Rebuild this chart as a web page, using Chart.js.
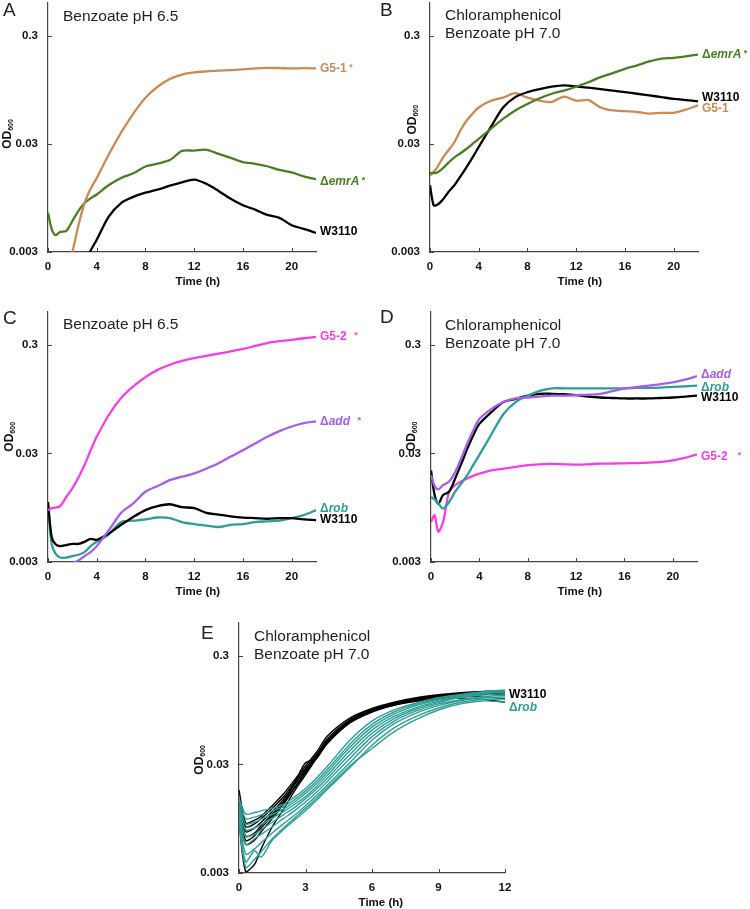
<!DOCTYPE html>
<html>
<head>
<meta charset="utf-8">
<script src="https://cdn.jsdelivr.net/npm/chart.js@4.4.1/dist/chart.umd.min.js"></script>
<style>
  body { margin: 0; background: #fff; }
  #fig { position: relative; width: 750px; height: 909px; font-family: 'Liberation Sans', Arial, sans-serif; color: #222; overflow: hidden; }
  .box { position: absolute; }
  .letter { position: absolute; font-size: 19px; line-height: 20px; }
  .cond { position: absolute; font-size: 15.5px; line-height: 18px; white-space: nowrap; }
</style>
</head>
<body>
<div id="fig">
  <div class="box" style="left:0;top:0;width:375px;height:290px"><canvas id="chartA"></canvas></div>
  <div class="box" style="left:375px;top:0;width:375px;height:290px"><canvas id="chartB"></canvas></div>
  <div class="box" style="left:0;top:290px;width:375px;height:310px"><canvas id="chartC"></canvas></div>
  <div class="box" style="left:375px;top:290px;width:375px;height:310px"><canvas id="chartD"></canvas></div>
  <div class="box" style="left:180px;top:600px;width:375px;height:309px"><canvas id="chartE"></canvas></div>

  <div class="letter" style="left:3px;top:0px">A</div>
  <div class="cond" style="left:63px;top:7px">Benzoate pH 6.5</div>
  <div class="letter" style="left:380px;top:0px">B</div>
  <div class="cond" style="left:445px;top:6px">Chloramphenicol<br>Benzoate pH 7.0</div>
  <div class="letter" style="left:3px;top:308px">C</div>
  <div class="cond" style="left:63px;top:315px">Benzoate pH 6.5</div>
  <div class="letter" style="left:380px;top:307px">D</div>
  <div class="cond" style="left:445px;top:316px">Chloramphenicol<br>Benzoate pH 7.0</div>
  <div class="letter" style="left:201px;top:623px">E</div>
  <div class="cond" style="left:254px;top:627px">Chloramphenicol<br>Benzoate pH 7.0</div>
</div>

<script>
// ---- data (OD600) ----
const yTicks = [0.003, 0.03, 0.3]
const xTicksLong = [0, 4, 8, 12, 16, 20]
const xTicksShort = [0, 3, 6, 9, 12]

const timeLong = [0, 0.3, 0.6, 1, 1.5, 2, 2.5, 3, 3.5, 4, 5, 6, 7, 8, 9, 10, 11, 12, 13, 14, 15, 16, 17, 18, 19, 20, 21, 22]

// A: benzoate pH 6.5
const aG51 = [null, null, null, null, 0.0021, 0.0030, 0.0053, 0.0085, 0.0115, 0.0145, 0.024, 0.038, 0.057, 0.080, 0.101, 0.119, 0.131, 0.137, 0.140, 0.142, 0.144, 0.146, 0.149, 0.151, 0.150, 0.149, 0.150, 0.149]
const aEmrA = [0.0069, 0.0049, 0.0043, 0.0046, 0.0047, 0.0058, 0.0072, 0.0085, 0.0094, 0.0102, 0.0125, 0.0145, 0.0160, 0.0185, 0.0197, 0.0212, 0.0258, 0.0259, 0.0264, 0.0242, 0.0222, 0.0203, 0.0196, 0.0186, 0.0172, 0.0163, 0.0150, 0.0141]
const aW3110 = [null, null, null, null, null, null, null, 0.0024, 0.0031, 0.0039, 0.0064, 0.0085, 0.0097, 0.0106, 0.0113, 0.0123, 0.0132, 0.0140, 0.0128, 0.0110, 0.0093, 0.0081, 0.0074, 0.0066, 0.0062, 0.0053, 0.0049, 0.0045]

// B: chloramphenicol + benzoate pH 7.0
const bG51 = [0.0153, 0.0165, 0.0182, 0.0218, 0.026, 0.031, 0.040, 0.049, 0.057, 0.065, 0.075, 0.080, 0.088, 0.080, 0.075, 0.073, 0.082, 0.075, 0.076, 0.065, 0.061, 0.060, 0.059, 0.057, 0.058, 0.058, 0.062, 0.068]
const bW3110 = [0.0124, 0.0081, 0.0082, 0.0090, 0.0107, 0.0124, 0.0150, 0.0183, 0.0225, 0.028, 0.043, 0.065, 0.081, 0.090, 0.096, 0.101, 0.104, 0.102, 0.099, 0.096, 0.093, 0.090, 0.087, 0.084, 0.081, 0.078, 0.076, 0.074]
const bEmrA = [0.0161, 0.0161, 0.0163, 0.0176, 0.0200, 0.0225, 0.0245, 0.0270, 0.0300, 0.0333, 0.0413, 0.051, 0.061, 0.070, 0.079, 0.087, 0.093, 0.101, 0.111, 0.124, 0.135, 0.148, 0.159, 0.173, 0.184, 0.187, 0.193, 0.200]

// C: benzoate pH 6.5
const cG52 = [0.0090, 0.0094, 0.0095, 0.0098, 0.0119, 0.0143, 0.0180, 0.0234, 0.0320, 0.0426, 0.068, 0.097, 0.124, 0.151, 0.176, 0.196, 0.213, 0.226, 0.237, 0.248, 0.260, 0.274, 0.292, 0.311, 0.323, 0.333, 0.344, 0.354]
const cAdd = [null, null, null, null, 0.0026, 0.0029, 0.0031, 0.0034, 0.0037, 0.0042, 0.0059, 0.0085, 0.0104, 0.0133, 0.0150, 0.0170, 0.0183, 0.0196, 0.0217, 0.0243, 0.028, 0.032, 0.037, 0.0426, 0.048, 0.053, 0.057, 0.059]
const cW3110 = [0.0107, 0.0051, 0.0044, 0.0042, 0.0043, 0.0044, 0.0044, 0.0046, 0.0049, 0.0048, 0.0055, 0.0066, 0.0078, 0.0090, 0.0098, 0.0102, 0.0096, 0.0094, 0.0085, 0.0082, 0.0079, 0.0077, 0.0076, 0.0075, 0.0076, 0.0076, 0.0074, 0.0073]
const cRob = [0.0099, 0.0044, 0.0036, 0.0033, 0.0033, 0.0034, 0.0035, 0.0037, 0.0042, 0.0046, 0.0054, 0.0070, 0.0072, 0.0074, 0.0077, 0.0076, 0.0070, 0.0067, 0.0065, 0.0063, 0.0066, 0.0067, 0.0070, 0.0071, 0.0072, 0.0076, 0.0081, 0.0090]

// D: chloramphenicol + benzoate pH 7.0
const dW3110 = [0.0209, 0.0124, 0.0103, 0.0124, 0.0133, 0.0176, 0.0240, 0.0330, 0.0440, 0.0560, 0.072, 0.089, 0.095, 0.102, 0.106, 0.106, 0.105, 0.103, 0.100, 0.098, 0.097, 0.096, 0.096, 0.096, 0.097, 0.098, 0.100, 0.102]
const dAdd = [0.0189, 0.0150, 0.0140, 0.0153, 0.0165, 0.0202, 0.0270, 0.0370, 0.0490, 0.0620, 0.077, 0.089, 0.096, 0.098, 0.100, 0.102, 0.102, 0.103, 0.104, 0.106, 0.112, 0.119, 0.122, 0.126, 0.130, 0.135, 0.143, 0.154]
const dRob = [0.0119, 0.0113, 0.0104, 0.0093, 0.0107, 0.0133, 0.0158, 0.0189, 0.0235, 0.0290, 0.045, 0.069, 0.089, 0.102, 0.113, 0.119, 0.119, 0.119, 0.119, 0.119, 0.119, 0.119, 0.120, 0.120, 0.121, 0.123, 0.124, 0.126]
const dG52 = [0.0070, 0.0081, 0.0057, 0.0070, 0.0133, 0.0153, 0.0165, 0.0176, 0.0186, 0.0195, 0.0209, 0.0217, 0.0225, 0.0234, 0.0238, 0.0240, 0.0238, 0.0236, 0.0238, 0.0241, 0.0242, 0.0243, 0.0244, 0.0246, 0.0250, 0.0259, 0.0272, 0.0294]

// E: replicate wells, W3110 vs delta-rob
const timeShort = [0, 0.3, 0.7, 1, 1.5, 2, 2.5, 3, 3.5, 4, 5, 6, 7, 8, 9, 10, 11, 12]
const eW3110 = [
  [0.0175, 0.0087, 0.0092, 0.0100, 0.0125, 0.0160, 0.0215, 0.0290, 0.0390, 0.055, 0.080, 0.098, 0.112, 0.123, 0.131, 0.137, 0.141, 0.142],
  [0.0135, 0.0080, 0.0085, 0.0095, 0.0118, 0.0150, 0.0205, 0.0275, 0.0370, 0.052, 0.077, 0.096, 0.110, 0.121, 0.129, 0.135, 0.139, 0.140],
  [0.0120, 0.0072, 0.0078, 0.0088, 0.0110, 0.0142, 0.0195, 0.0265, 0.0360, 0.050, 0.075, 0.094, 0.108, 0.119, 0.127, 0.133, 0.136, 0.134],
  [0.0110, 0.0066, 0.0070, 0.0082, 0.0104, 0.0135, 0.0200, 0.0310, 0.0340, 0.049, 0.074, 0.093, 0.107, 0.118, 0.126, 0.131, 0.133, 0.130],
  [0.0100, 0.0055, 0.0060, 0.0072, 0.0095, 0.0128, 0.0180, 0.0250, 0.0350, 0.048, 0.073, 0.092, 0.106, 0.116, 0.123, 0.127, 0.126, 0.120],
  [0.0090, 0.0031, 0.0036, 0.0050, 0.0080, 0.0115, 0.0170, 0.0240, 0.0340, 0.047, 0.072, 0.091, 0.105, 0.114, 0.120, 0.122, 0.119, 0.112],
  [0.0125, 0.0060, 0.0066, 0.0078, 0.0100, 0.0130, 0.0185, 0.0255, 0.0355, 0.049, 0.075, 0.095, 0.109, 0.120, 0.128, 0.134, 0.138, 0.137]
]
const eRob = [
  [0.0145, 0.0105, 0.0108, 0.0112, 0.0118, 0.0128, 0.0150, 0.0180, 0.0225, 0.0290, 0.050, 0.075, 0.095, 0.110, 0.123, 0.132, 0.140, 0.145],
  [0.0135, 0.0095, 0.0098, 0.0103, 0.0112, 0.0122, 0.0142, 0.0170, 0.0212, 0.0270, 0.046, 0.070, 0.091, 0.107, 0.120, 0.130, 0.138, 0.143],
  [0.0125, 0.0085, 0.0088, 0.0094, 0.0104, 0.0116, 0.0135, 0.0162, 0.0200, 0.0255, 0.043, 0.066, 0.087, 0.104, 0.117, 0.128, 0.136, 0.141],
  [0.0118, 0.0075, 0.0078, 0.0084, 0.0096, 0.0110, 0.0128, 0.0152, 0.0188, 0.0240, 0.040, 0.062, 0.083, 0.100, 0.114, 0.126, 0.134, 0.139],
  [0.0110, 0.0065, 0.0068, 0.0075, 0.0088, 0.0103, 0.0120, 0.0145, 0.0178, 0.0225, 0.037, 0.058, 0.079, 0.097, 0.111, 0.124, 0.130, 0.134],
  [0.0105, 0.0055, 0.0062, 0.0068, 0.0080, 0.0095, 0.0112, 0.0135, 0.0166, 0.0210, 0.034, 0.054, 0.075, 0.093, 0.108, 0.118, 0.126, 0.130],
  [0.0100, 0.0045, 0.0050, 0.0057, 0.0070, 0.0085, 0.0102, 0.0125, 0.0155, 0.0195, 0.031, 0.050, 0.071, 0.089, 0.104, 0.116, 0.123, 0.125],
  [0.0095, 0.0038, 0.0048, 0.0042, 0.0060, 0.0075, 0.0092, 0.0112, 0.0140, 0.0178, 0.028, 0.045, 0.065, 0.083, 0.099, 0.112, 0.119, 0.120],
  [0.0090, 0.0034, 0.0040, 0.0047, 0.0062, 0.0078, 0.0096, 0.0118, 0.0147, 0.0185, 0.029, 0.042, 0.060, 0.078, 0.095, 0.108, 0.115, 0.112]
]

// ---- colours ----
const TAN = '#C98B55'
const GREEN = '#4B7D26'
const BLACK = '#000000'
const MAGENTA = '#F040E6'
const PURPLE = '#A65EE6'
const TEAL = '#2E9E95'
const FONT = "'Liberation Sans', Arial, sans-serif"

// draws inward tick marks, axis titles and the labels at line ends
const figPlugin = {
  id: 'fig',
  afterDraw (chart, args, opts) {
    const ctx = chart.ctx
    const xs = chart.scales.x
    const ys = chart.scales.y
    const a = chart.chartArea
    ctx.save()
    ctx.strokeStyle = '#444'
    ctx.lineWidth = 1
    xs.ticks.forEach(t => {
      const px = Math.round(xs.getPixelForValue(t.value)) + 0.5
      ctx.beginPath(); ctx.moveTo(px, a.bottom); ctx.lineTo(px, a.bottom - 4); ctx.stroke()
    })
    ys.ticks.forEach(t => {
      const py = Math.round(ys.getPixelForValue(t.value)) + 0.5
      ctx.beginPath(); ctx.moveTo(a.left, py); ctx.lineTo(a.left + 4, py); ctx.stroke()
    })

    ctx.fillStyle = '#111'
    ctx.textBaseline = 'middle'
    ctx.textAlign = 'center'
    ctx.font = 'bold 11.5px ' + FONT
    ctx.fillText('Time (h)', xs.getPixelForValue(opts.timeAt), a.bottom + 30)

    // OD600, rotated, with subscript
    ctx.save()
    ctx.translate(a.left - opts.odDx, ys.getPixelForValue(opts.odAt))
    ctx.rotate(-Math.PI / 2)
    ctx.textAlign = 'left'
    ctx.font = 'bold 12px ' + FONT
    const w1 = ctx.measureText('OD').width
    ctx.font = 'bold 7px ' + FONT
    const w2 = ctx.measureText('600').width
    const x0 = -(w1 + w2) / 2
    ctx.font = 'bold 12px ' + FONT
    ctx.fillText('OD', x0, 0)
    ctx.font = 'bold 7px ' + FONT
    ctx.fillText('600', x0 + w1, 3)
    ctx.restore()

    // end labels
    chart.data.datasets.forEach((ds, i) => {
      if (!ds.endLabel) return
      const meta = chart.getDatasetMeta(i)
      const last = meta.data[meta.data.length - 1]
      let x = last.x + 4
      const y = last.y + (ds.labelDy || 0)
      ctx.fillStyle = ds.borderColor
      ctx.textAlign = 'left'
      ds.endLabel.forEach(([txt, st]) => {
        if (st === 's') ctx.font = 'bold 9px ' + FONT
        else if (st === 'bi') ctx.font = 'italic bold 12px ' + FONT
        else ctx.font = 'bold 12px ' + FONT
        ctx.fillText(txt, x, st === 's' ? y - 1 : y)
        x += ctx.measureText(txt).width
      })
    })
    ctx.restore()
  }
}

function series (time, values, color, width, label, dy) {
  return {
    data: time.map((t, i) => ({ x: t, y: values[i] })),
    borderColor: color,
    borderWidth: width,
    pointRadius: 0,
    tension: 0.3,
    fill: false,
    endLabel: label,
    labelDy: dy
  }
}

function panel (id, geo, datasets) {
  return new Chart(document.getElementById(id), {
    type: 'line',
    data: { datasets: datasets },
    options: {
      responsive: true,
      maintainAspectRatio: false,
      animation: false,
      layout: { padding: { left: 0, top: geo.top, right: geo.right, bottom: 0 } },
      plugins: {
        legend: { display: false },
        tooltip: { enabled: false },
        fig: { timeAt: geo.timeAt, odDx: geo.odDx, odAt: geo.odAt }
      },
      scales: {
        x: {
          type: 'linear',
          min: 0,
          max: geo.xMax,
          afterBuildTicks: s => { s.ticks = geo.xTicks.map(v => ({ value: v })) },
          afterFit: s => { s.height = geo.bottom; s.paddingLeft = 0; s.paddingRight = 0 },
          grid: { display: false, drawTicks: false },
          border: { display: true, color: '#444', width: 1.2 },
          ticks: { padding: 8, color: '#111', font: { family: FONT, weight: 'bold', size: 11.5 } }
        },
        y: {
          type: 'logarithmic',
          min: 0.003,
          max: 0.6,
          afterBuildTicks: s => { s.ticks = yTicks.map(v => ({ value: v })) },
          afterFit: s => { s.width = geo.left; s.paddingTop = 0; s.paddingBottom = 0 },
          grid: { display: false, drawTicks: false },
          border: { display: true, color: '#444', width: 1.2 },
          ticks: { padding: 10, color: '#111', font: { family: FONT, weight: 'bold', size: 11.5 }, callback: v => String(v) }
        }
      }
    },
    plugins: [figPlugin]
  })
}

panel('chartA', { top: 3, right: 59, left: 48, bottom: 38, xMax: 22, xTicks: xTicksLong, timeAt: 12.3, odDx: 40, odAt: 0.037 }, [
  series(timeLong, aG51, TAN, 2.3, [['G5-1', 'b'], [' *', 's']], 0),
  series(timeLong, aEmrA, GREEN, 2.3, [['Δ', 'b'], ['emrA', 'bi'], [' *', 's']], 2),
  series(timeLong, aW3110, BLACK, 2.3, [['W3110', 'b']], -1)
])

panel('chartB', { top: 3, right: 52, left: 55, bottom: 38, xMax: 22, xTicks: xTicksLong, timeAt: 12.3, odDx: 17, odAt: 0.05 }, [
  series(timeLong, bEmrA, GREEN, 2.3, [['Δ', 'b'], ['emrA', 'bi'], [' *', 's']], 0),
  series(timeLong, bW3110, BLACK, 2.3, [['W3110', 'b']], -4),
  series(timeLong, bG51, TAN, 2.3, [['G5-1', 'b']], 3)
])

panel('chartC', { top: 22, right: 59, left: 48, bottom: 38, xMax: 22, xTicks: xTicksLong, timeAt: 12.3, odDx: 38, odAt: 0.0426 }, [
  series(timeLong, cG52, MAGENTA, 2.3, [['G5-2', 'b'], ['   *', 's']], 0),
  series(timeLong, cAdd, PURPLE, 2.3, [['Δ', 'b'], ['add', 'bi'], ['   *', 's']], 0),
  series(timeLong, cW3110, BLACK, 2.3, [['W3110', 'b']], 0),
  series(timeLong, cRob, TEAL, 2.3, [['Δ', 'b'], ['rob', 'bi']], -1)
])

panel('chartD', { top: 22, right: 53, left: 56, bottom: 38, xMax: 22, xTicks: xTicksLong, timeAt: 12.3, odDx: 19, odAt: 0.043 }, [
  series(timeLong, dAdd, PURPLE, 2.3, [['Δ', 'b'], ['add', 'bi']], -1),
  series(timeLong, dRob, TEAL, 2.3, [['Δ', 'b'], ['rob', 'bi']], 2),
  series(timeLong, dW3110, BLACK, 2.3, [['W3110', 'b']], 2),
  series(timeLong, dG52, MAGENTA, 2.3, [['G5-2', 'b'], ['    *', 's']], 2)
])

panel('chartE', { top: 23, right: 50, left: 59, bottom: 36, xMax: 12, xTicks: xTicksShort, timeAt: 6.4, odDx: 39, odAt: 0.033 }, [
  ...eRob.map((vals, i) => series(timeShort, vals, TEAL, 1.4, i === 8 ? [['Δ', 'b'], ['rob', 'bi']] : null, 5)),
  ...eW3110.map((vals, i) => series(timeShort, vals, BLACK, 1.4, i === 1 ? [['W3110', 'b']] : null, 3))
])
</script>
</body>
</html>
